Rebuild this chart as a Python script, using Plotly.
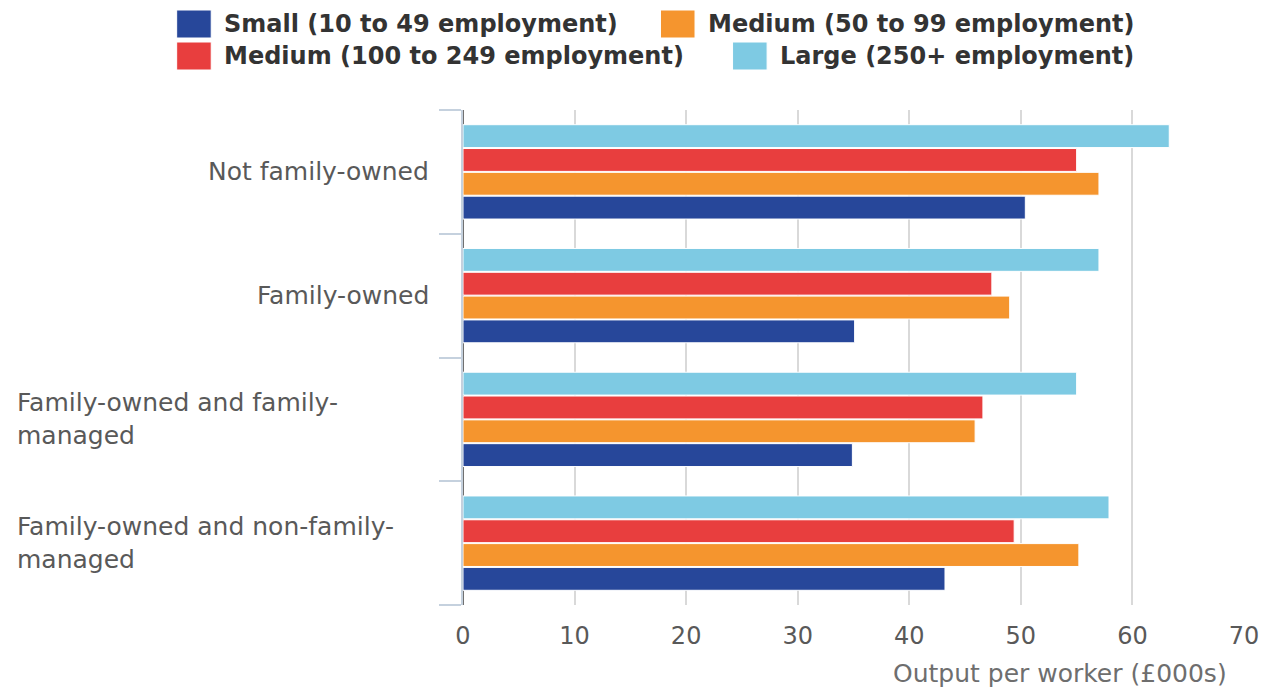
import plotly.graph_objects as go

categories = ["Not family-owned", "Family-owned", "Family-owned and family-managed", "Family-owned and non-family-managed"]
cat_labels = ["Not family-owned", "Family-owned", "Family-owned and family-<br>managed", "Family-owned and non-family-<br>managed"]
series_names = ["Small (10 to 49 employment)", "Medium (50 to 99 employment)", "Medium (100 to 249 employment)", "Large (250+ employment)"]
colors = ["#27479a", "#f5952e", "#e83e3e", "#7ecae3"]
small = [50.4, 35.1, 34.9, 43.2]
medium_50_99 = [57.0, 49.0, 45.9, 55.2]
medium_100_249 = [55.0, 47.4, 46.6, 49.4]
large = [63.3, 57.0, 55.0, 57.9]
values = [small, medium_50_99, medium_100_249, large]
x_ticks = [0, 10, 20, 30, 40, 50, 60, 70]
x_title = "Output per worker (£000s)"

OFF = 8      # page body margin
OFFX = 10    # page-x to figure-x offset (small left shift keeps the "70" label inside)
W, H = 1279 - 2 * OFF, 695 - 2 * OFF
L, T = 465 - OFFX, 110 - OFF
R = W - (1256 - OFFX)
B = H - (605 - OFF)
PW, PH = W - L - R, H - T - B

def px(xp):
    return (xp - OFFX - L) / PW

def py(yp):
    return (H - B - (yp - OFF)) / PH

fig = go.Figure()
for name, col, vals in zip(series_names, colors, values):
    fig.add_trace(go.Bar(
        y=categories, x=vals, name=name, orientation="h",
        marker=dict(color=col, line=dict(color="white", width=1)),
        showlegend=False, hoverinfo="x+name",
    ))

font = "DejaVu Sans"
fig.update_layout(
    width=W, height=H,
    margin=dict(l=L, r=R, t=T, b=B),
    plot_bgcolor="white", paper_bgcolor="white",
    barmode="group", bargap=0.23, bargroupgap=0.04,
    font=dict(family=font, size=24, color="#595959"),
    xaxis=dict(
        range=[0, 70], tickvals=x_ticks, showgrid=True, gridcolor="#d9d9d9", gridwidth=2,
        zeroline=True, zerolinecolor="#707070", zerolinewidth=2,
        showline=False, ticks="", ticklabelstandoff=14,
        tickfont=dict(family=font, size=24, color="#595959"), fixedrange=True,
    ),
    yaxis=dict(
        type="category", categoryorder="array", categoryarray=categories[::-1],
        showticklabels=False, showgrid=False, zeroline=False,
        showline=True, linecolor="#c5d1de", linewidth=2,
        ticks="outside", tickson="boundaries", ticklen=22, tickwidth=2, tickcolor="#c5d1de",
        fixedrange=True,
    ),
)

# category labels
for cat, lab in zip(categories, cat_labels):
    multi = "<br>" in lab
    fig.add_annotation(
        xref="paper", yref="y", y=cat, x=px(11) if multi else px(433),
        xanchor="left" if multi else "right", yanchor="middle", align="left",
        text=lab, showarrow=False, font=dict(family=font, size=25, color="#595959"),
    )

# axis title
fig.add_annotation(
    xref="paper", yref="paper", x=px(1241), y=py(673), xanchor="right", yanchor="middle",
    text=x_title, showarrow=False, font=dict(family=font, size=25, color="#6e6e6e"),
)

# legend (manual, larger swatches)
legend_pos = [(175, 24), (665, 24), (175, 56), (738, 56)]
for (lx, ly), name, col in zip(legend_pos, series_names, colors):
    fig.add_shape(type="rect", xref="paper", yref="paper",
                  x0=px(lx), x1=px(lx + 35), y0=py(ly - 14), y1=py(ly + 14),
                  fillcolor=col, line=dict(color="white", width=1), layer="above")
    fig.add_annotation(xref="paper", yref="paper", x=px(lx + 46), y=py(ly),
                       xanchor="left", yanchor="middle", text="<b>" + name + "</b>",
                       showarrow=False, font=dict(family=font, size=24, color="#333333"))

fig.write_html("out.html")
